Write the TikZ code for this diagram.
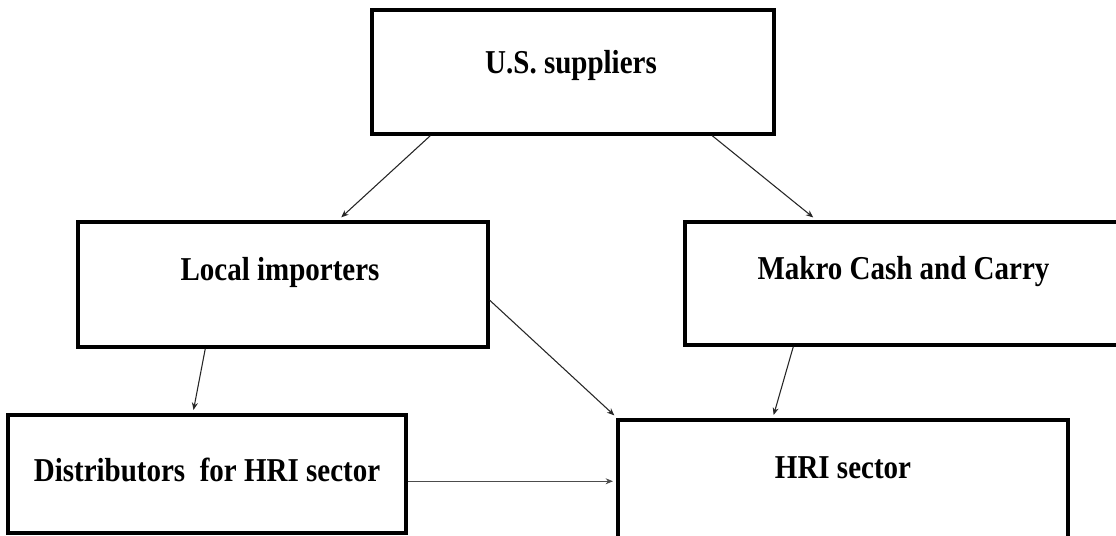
\documentclass[tikz,border=0pt]{standalone}
\usepackage{fontspec}
\setmainfont{Liberation Serif}
\usetikzlibrary{calc,arrows.meta}
\newlength\pxu
\setlength\pxu{0.75pt}
\newcommand\tallText[1]{\scalebox{1}[1.15]{#1}}
\tikzset{
  box/.style={draw=black, line width=2.6pt, fill=white, inner sep=0pt},
  lbl/.style={font=\fontsize{21.75pt}{26pt}\selectfont\bfseries, inner sep=0pt},
  conn/.style={draw=black!85, line width=0.8pt, -{Stealth[length=5.5pt,width=4.5pt]}, shorten >=1pt},
}
\begin{document}
\begin{tikzpicture}[x=0.75pt,y=-0.75pt]
\useasboundingbox (0,0) rectangle (1116,535);
\clip (0,0) rectangle (1116,535);
\fill[white] (0,0) rectangle (1116,535);

\node[box, minimum width=402\pxu, minimum height=124\pxu,
  label={[lbl, yshift=7\pxu, xshift=-2\pxu]center:\tallText{U.S. suppliers}}] (us) at (573,72) {};
\node[box, minimum width=410\pxu, minimum height=125\pxu,
  label={[lbl, yshift=12.5\pxu, xshift=-3\pxu]center:\tallText{Local importers}}] (loc) at (283,284.5) {};
\node[box, minimum width=437\pxu, minimum height=123\pxu,
  label={[lbl, yshift=11.5\pxu]center:\tallText{Makro Cash and Carry}}] (mak) at (903.5,283.5) {};
\node[box, minimum width=398\pxu, minimum height=118\pxu,
  label={[lbl, yshift=4\pxu]center:\tallText{Distributors\ \ for HRI sector}}] (dis) at (207,474) {};
\node[box, minimum width=450\pxu, minimum height=120\pxu,
  label={[lbl, yshift=12\pxu]center:\tallText{HRI sector}}] (hri) at (843,480) {};

\draw[conn] ($(us.south west)+(60,0)$) -- ($(loc.north west)+(264,-2)$);
\draw[conn] ($(us.south west)+(342,0)$) -- ($(mak.north west)+(131,-2)$);
\draw[conn] ($(loc.south west)+(129,0)$) -- ($(dis.north west)+(187,-2)$);
\draw[conn] ($(loc.north east)+(0,80)$) -- ($(hri.north west)+(-1,-2)$);
\draw[conn] ($(mak.south west)+(110,0)$) -- ($(hri.north west)+(157,-2)$);
\draw[conn, draw=black!70, line width=0.7pt] ($(dis.north east)+(0,68)$) -- ($(hri.north west)+(-2,63)$);
\end{tikzpicture}
\end{document}
